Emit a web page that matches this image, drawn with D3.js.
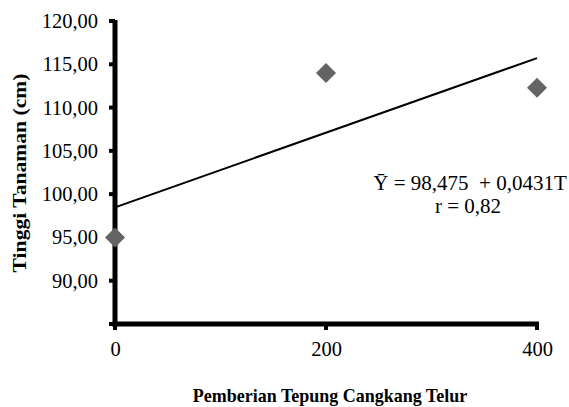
<!DOCTYPE html>
<html>
<head>
<meta charset="utf-8">
<script src="https://cdn.jsdelivr.net/npm/d3@7"></script>
<style>
  body { margin: 0; background: #fff; }
  text { font-family: "Liberation Serif", "Times New Roman", serif; fill: #000; }
</style>
</head>
<body>
<script>
// data
var doses = [0, 200, 400];
var heights = [95.0, 114.0, 112.3];
var yTicks = [90, 95, 100, 105, 110, 115, 120];
var xTicks = [0, 200, 400];
var intercept = 98.475, slope = 0.0431;
var eqLabel = "\u0232 = 98,475  + 0,0431T";
var rLabel = "r = 0,82";

var width = 569, height = 407;

var svg = d3.select("body").append("svg")
  .attr("width", width)
  .attr("height", height);

var x = d3.scaleLinear().domain([0, 400]).range([115, 537]);
var y = d3.scaleLinear().domain([85, 120]).range([324, 21]);

function fmt(v) { return v.toFixed(2).replace(".", ","); }

// y axis
var yAxis = svg.append("g")
  .attr("transform", "translate(" + x(0) + ",0)")
  .call(d3.axisLeft(y).tickValues(yTicks).tickSize(0).tickPadding(17).tickFormat(fmt));
yAxis.select(".domain").remove();
yAxis.selectAll("text").attr("font-size", 20.5).style("font-family", "Liberation Serif");

svg.append("line")
  .attr("x1", x(0)).attr("x2", x(0))
  .attr("y1", y(120) - 1).attr("y2", y(85) + 2.5)
  .attr("stroke", "#000").attr("stroke-width", 5);

svg.selectAll(".ytick").data(yTicks.concat([85])).enter().append("rect")
  .attr("class", "ytick")
  .attr("x", x(0) - 6).attr("y", function(d) { return y(d) - 2; })
  .attr("width", 6).attr("height", 4)
  .attr("fill", "#000");

// x axis
var xAxis = svg.append("g")
  .attr("transform", "translate(0," + y(85) + ")")
  .call(d3.axisBottom(x).tickValues(xTicks).tickSize(0).tickPadding(17).tickFormat(d3.format("d")));
xAxis.select(".domain").remove();
xAxis.selectAll("text").attr("font-size", 20.5).style("font-family", "Liberation Serif");

svg.append("line")
  .attr("x1", x(0) - 2.5).attr("x2", x(400) + 2)
  .attr("y1", y(85)).attr("y2", y(85))
  .attr("stroke", "#000").attr("stroke-width", 5);

svg.selectAll(".xtick").data(xTicks).enter().append("rect")
  .attr("class", "xtick")
  .attr("x", function(d) { return x(d) - 2; }).attr("y", y(85))
  .attr("width", 4).attr("height", 6)
  .attr("fill", "#000");

// regression line
svg.append("line")
  .attr("x1", x(0)).attr("y1", y(intercept))
  .attr("x2", x(400)).attr("y2", y(intercept + slope * 400))
  .attr("stroke", "#000").attr("stroke-width", 2);

// points
svg.selectAll(".pt").data(doses).enter().append("path")
  .attr("class", "pt")
  .attr("d", "M0,-10L10,0L0,10L-10,0Z")
  .attr("transform", function(d, i) { return "translate(" + x(d) + "," + y(heights[i]) + ")"; })
  .attr("fill", "#646464");

// equation
svg.append("text")
  .attr("x", 470).attr("y", 190)
  .attr("text-anchor", "middle")
  .attr("font-size", 21)
  .style("white-space", "pre")
  .text(eqLabel);
svg.append("text")
  .attr("x", 468).attr("y", 213)
  .attr("text-anchor", "middle")
  .attr("font-size", 21)
  .text(rLabel);

// axis titles (the picture is a little stretched vertically)
svg.append("text")
  .attr("transform", "translate(26,173) rotate(-90) scale(1.2,1)")
  .attr("text-anchor", "middle")
  .attr("font-size", 18)
  .attr("font-weight", "bold")
  .text("Tinggi Tanaman (cm)");

svg.append("text")
  .attr("transform", "translate(330,402) scale(1,1.1)")
  .attr("text-anchor", "middle")
  .attr("font-size", 18)
  .attr("font-weight", "bold")
  .text("Pemberian Tepung Cangkang Telur");
</script>
</body>
</html>
